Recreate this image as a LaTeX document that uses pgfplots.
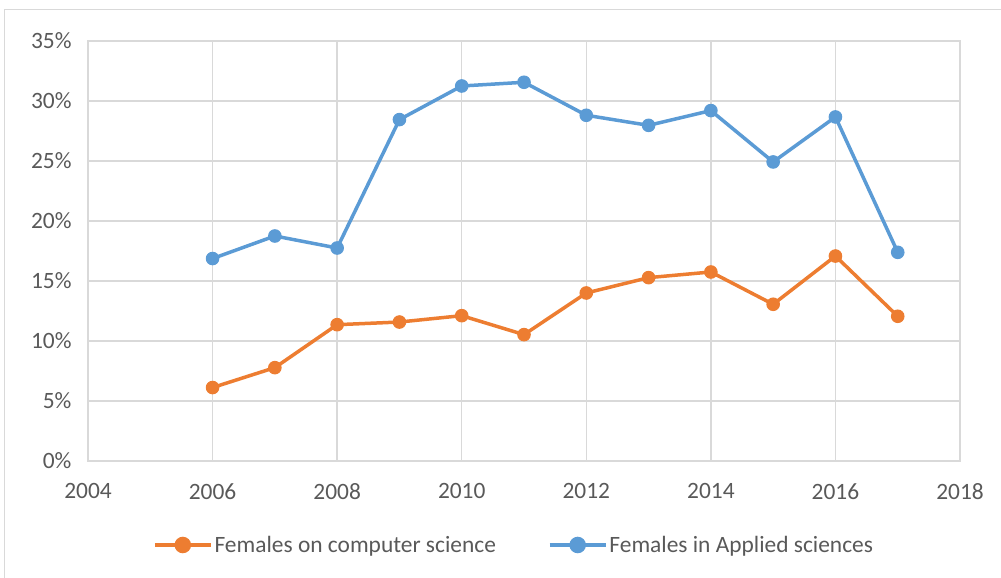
\documentclass[border=0pt]{standalone}
\usepackage{pgfplots}
\pgfplotsset{compat=1.18}
\usepackage{fontspec}
\setmainfont{Carlito}
\definecolor{cs}{HTML}{ED7D31}
\definecolor{as}{HTML}{5B9BD5}
\definecolor{gridc}{HTML}{D9D9D9}
\definecolor{txt}{HTML}{595959}
\begin{document}
\begin{tikzpicture}[x=1bp,y=1bp]
\useasboundingbox (-88,-117) rectangle (913,461);
\draw[gridc, line width=1bp] (-83,-117) -- (-83,451) -- (913,451);
\begin{axis}[
  at={(0,0)}, anchor=south west,
  scale only axis, width=872bp, height=420bp,
  xmin=2004, xmax=2018, ymin=0, ymax=35,
  xtick={2004,2006,...,2018}, ytick={0,5,...,35},
  xticklabel={\pgfmathprintnumber[1000 sep={}]{\tick}},
  yticklabel={\pgfmathprintnumber{\tick}\%},
  /pgf/number format/assume math mode=true,
  tick label style={font=\fontsize{23.5}{27}\selectfont, text=txt},
  xticklabel style={yshift=-19bp},
  yticklabel style={xshift=-13bp},
  grid=major, major grid style={gridc, line width=1.3bp},
  axis line style={gridc, line width=1.3bp},
  major tick length=0pt,
  legend style={at={(0.4886,-0.2)}, anchor=center, draw=none, fill=none,
    legend columns=2, font=\fontsize{23.5}{27}\selectfont, text=txt,
    /tikz/every even column/.append style={column sep=50bp}},
  legend image code/.code={
    \draw[#1, line width=3.5bp] (0bp,0bp) -- (56bp,0bp);
    \fill[#1] (28bp,0bp) circle (6.5bp);
  },
]
\addplot[cs, line width=3.5bp, mark=*, mark size=6.3bp, mark options={fill=cs, draw=cs, line width=1bp}] coordinates {
(2006,6.12) (2007,7.78) (2008,11.36) (2009,11.58) (2010,12.11) (2011,10.53)
(2012,14.0) (2013,15.28) (2014,15.75) (2015,13.06) (2016,17.08) (2017,12.06)};
\addlegendentry{Females on computer science}
\addplot[as, line width=3.5bp, mark=*, mark size=6.3bp, mark options={fill=as, draw=as, line width=1bp}] coordinates {
(2006,16.87) (2007,18.75) (2008,17.75) (2009,28.45) (2010,31.25) (2011,31.56)
(2012,28.81) (2013,27.97) (2014,29.2) (2015,24.92) (2016,28.67) (2017,17.39)};
\addlegendentry{Females in Applied sciences}
\end{axis}
\end{tikzpicture}
\end{document}
